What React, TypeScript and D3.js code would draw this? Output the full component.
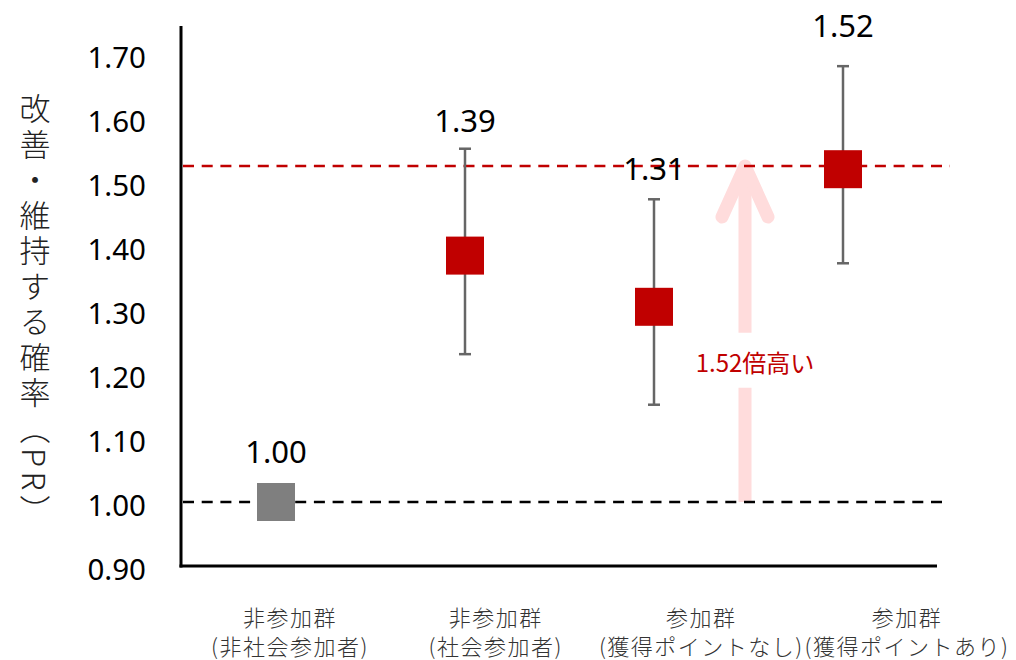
import React from "react";
import * as d3 from "d3";

const categories = ["g1", "g2", "g3", "g4"];
const labelLine1 = ["非参加群", "非参加群", "参加群", "参加群"];
const labelLine2 = ["(非社会参加者)", "(社会参加者)", "(獲得ポイントなし)", "(獲得ポイントあり)"];
const values = [1.0, 1.385, 1.305, 1.52];
const valueLabels = ["1.00", "1.39", "1.31", "1.52"];
const ciLower: (number | null)[] = [null, 1.231, 1.152, 1.373];
const ciUpper: (number | null)[] = [null, 1.552, 1.473, 1.681];
const markerColors = ["#7f7f7f", "#c00000", "#c00000", "#c00000"];
const yTicks = [0.9, 1.0, 1.1, 1.2, 1.3, 1.4, 1.5, 1.6, 1.7];
const yAxisTitle = "改善・維持する確率（PR）";
const referenceValue = 1.0;
const targetValue = 1.525;
const annotationText = "1.52倍高い";
const annotationValue = 1.219;

const W = 1016;
const H = 660;

export default function App() {
  const y = d3.scaleLinear().domain([0.9, 1.7]).range([566, 54]);
  const x = d3.scalePoint<string>().domain(categories).range([276, 843]);
  const xl = d3.scalePoint<string>().domain(categories).range([290, 907]);
  const axisX = 181;
  const plotRight = 948;
  const sq = 38;
  const labelOffsets = [51, 29, 31, 41];
  const latin = "'Noto Sans', 'Liberation Sans', sans-serif";
  const cjk = "'Noto Sans CJK JP', 'Noto Sans', sans-serif";

  const arrowX = 745;
  const tipY = y(targetValue);
  const baseY = y(referenceValue);
  const textY = y(annotationValue);
  const arrowColor = "#ffdcdc";

  return (
    <svg width={W} height={H} style={{ position: "absolute", left: 0, top: 0, background: "#fff" }}>
      {/* y-axis title */}
      <text
        x={35}
        y={93}
        fontFamily={cjk}
        fontSize={31}
        fontWeight={300}
        fill="#222"
        style={{ writingMode: "vertical-rl", letterSpacing: "4.5px" } as any}
      >
        {yAxisTitle}
      </text>

      {/* tick labels */}
      {yTicks.map((t) => (
        <text
          key={t}
          x={146}
          y={y(t) + 2}
          textAnchor="end"
          dominantBaseline="central"
          fontFamily={latin}
          fontSize={29.5}
          fill="#000"
        >
          {t.toFixed(2)}
        </text>
      ))}

      {/* arrow annotation */}
      <g stroke={arrowColor} strokeWidth={13} fill="none">
        <line x1={arrowX} x2={arrowX} y1={tipY + 6} y2={textY - 29} />
        <line x1={arrowX} x2={arrowX} y1={textY + 26} y2={baseY} />
        <polyline
          points={`${arrowX - 23},${tipY + 51} ${arrowX},${tipY} ${arrowX + 23},${tipY + 51}`}
          strokeLinecap="round"
          strokeLinejoin="round"
        />
      </g>
      <text
        x={arrowX + 10}
        y={textY}
        textAnchor="middle"
        dominantBaseline="central"
        fontFamily={cjk}
        fontSize={24}
        fill="#c00000"
      >
        {annotationText}
      </text>

      {/* reference lines */}
      <line
        x1={axisX + 2}
        x2={plotRight}
        y1={y(referenceValue)}
        y2={y(referenceValue)}
        stroke="#000"
        strokeWidth={2.5}
        strokeDasharray="11 7.7"
      />
      <line
        x1={axisX + 2}
        x2={plotRight + 2}
        y1={tipY}
        y2={tipY}
        stroke="#c00000"
        strokeWidth={2.5}
        strokeDasharray="11 7.7"
      />

      {/* axes */}
      <line x1={axisX} x2={axisX} y1={26} y2={y(0.9) + 1.5} stroke="#000" strokeWidth={3} />
      <line x1={axisX - 1.5} x2={937} y1={y(0.9)} y2={y(0.9)} stroke="#000" strokeWidth={3} />

      {/* error bars */}
      {categories.map((c, i) => {
        const lo = ciLower[i];
        const hi = ciUpper[i];
        if (lo == null || hi == null) return null;
        const cx = x(c)!;
        return (
          <g key={"e" + c} stroke="#666" strokeWidth={2.5}>
            <line x1={cx} x2={cx} y1={y(hi)} y2={y(lo)} />
            <line x1={cx - 6} x2={cx + 6} y1={y(hi)} y2={y(hi)} />
            <line x1={cx - 6} x2={cx + 6} y1={y(lo)} y2={y(lo)} />
          </g>
        );
      })}

      {/* markers */}
      {categories.map((c, i) => (
        <rect
          key={"m" + c}
          x={x(c)! - sq / 2}
          y={y(values[i]) - sq / 2}
          width={sq}
          height={sq}
          fill={markerColors[i]}
        />
      ))}

      {/* value labels */}
      {categories.map((c, i) => {
        const top = ciUpper[i] != null ? y(ciUpper[i] as number) : y(values[i]);
        return (
          <text
            key={"v" + c}
            x={x(c)!}
            y={top - labelOffsets[i]}
            textAnchor="middle"
            dominantBaseline="central"
            fontFamily={latin}
            fontSize={31}
            fill="#000"
          >
            {valueLabels[i]}
          </text>
        );
      })}

      {/* category labels */}
      {categories.map((c, i) => (
        <g
          key={"c" + c}
          fontFamily={cjk}
          fontSize={22}
          fontWeight={300}
          fill="#333"
          textAnchor="middle"
          style={{ letterSpacing: "1.5px" }}
        >
          <text x={xl(c)!} y={616} dominantBaseline="central">
            {labelLine1[i]}
          </text>
          <text x={xl(c)!} y={645} dominantBaseline="central">
            {labelLine2[i]}
          </text>
        </g>
      ))}
    </svg>
  );
}
